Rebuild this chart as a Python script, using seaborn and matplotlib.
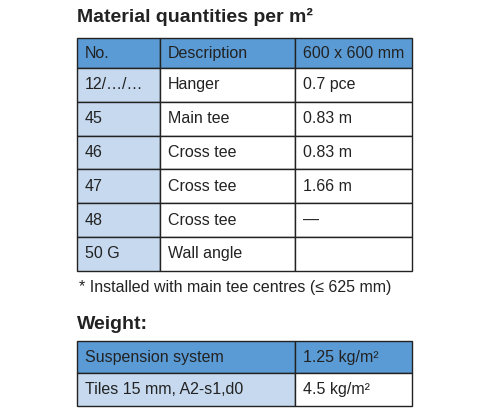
import matplotlib
matplotlib.use("Agg")
import matplotlib.pyplot as plt
import seaborn as sns
from matplotlib.patches import Rectangle

sns.set_style("white")
plt.rcParams['font.family'] = ['Liberation Sans Narrow', 'Liberation Sans', 'DejaVu Sans']

title1 = "Material quantities per m²"
headers = ["No.", "Description", "600 x 600 mm"]
numbers = ["12/…/…", "45", "46", "47", "48", "50 G"]
descriptions = ["Hanger", "Main tee", "Cross tee", "Cross tee", "Cross tee", "Wall angle"]
quantities = ["0.7 pce", "0.83 m", "0.83 m", "1.66 m", "—", ""]
footnote = "* Installed with main tee centres (≤ 625 mm)"
title2 = "Weight:"
weight_items = ["Suspension system", "Tiles 15 mm, A2-s1,d0"]
weight_values = ["1.25 kg/m²", "4.5 kg/m²"]

BLUE = "#5b9bd5"
LIGHT = "#c6d9ef"
fig = plt.figure(figsize=(4.95, 4.17), dpi=100)
ax = fig.add_axes([0, 0, 1, 1])
ax.set_xlim(0, 495); ax.set_ylim(417, 0); ax.axis("off")

cols = [77, 160, 295, 412]
def cell(x0, x1, y0, y1, color, text):
    ax.add_patch(Rectangle((x0, y0), x1 - x0, y1 - y0, facecolor=color, edgecolor="#222222", lw=1))
    ax.text(x0 + 8, (y0 + y1) / 2, text, va="center", ha="left", fontsize=11.5, color="#222222")

ax.text(77, 17, title1, fontsize=14, fontweight="bold", va="center", color="#222222")
top, rh = 38, 33.8
for j, h in enumerate(headers):
    cell(cols[j], cols[j + 1], top, top + 30, BLUE, h)
y = top + 30
for n, d, q in zip(numbers, descriptions, quantities):
    cell(cols[0], cols[1], y, y + rh, LIGHT, n)
    cell(cols[1], cols[2], y, y + rh, "white", d)
    cell(cols[2], cols[3], y, y + rh, "white", q)
    y += rh
ax.text(79, y + 17, footnote, fontsize=11.5, va="center", color="#222222")
ax.text(77, y + 54, title2, fontsize=14, fontweight="bold", va="center", color="#222222")
y2, rh2 = y + 70, 32.5
for i, (it, v) in enumerate(zip(weight_items, weight_values)):
    cell(cols[0], cols[2], y2, y2 + rh2, BLUE if i == 0 else LIGHT, it)
    cell(cols[2], cols[3], y2, y2 + rh2, BLUE if i == 0 else "white", v)
    y2 += rh2
fig.savefig("out.png", dpi=100)
